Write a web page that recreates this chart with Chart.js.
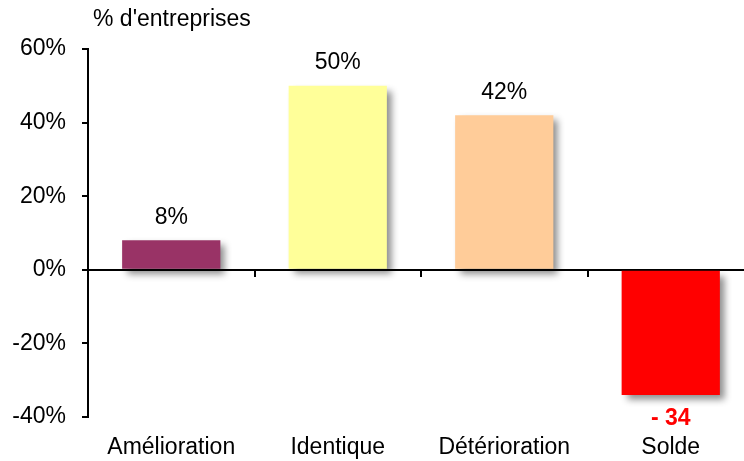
<!DOCTYPE html>
<html>
<head>
<meta charset="utf-8">
<script src="https://cdn.jsdelivr.net/npm/chart.js@4"></script>
<style>
  html, body { margin: 0; padding: 0; background: #fff; overflow: hidden; }
  #wrap { width: 760px; height: 461px; }
</style>
</head>
<body>
<div id="wrap"><canvas id="myChart"></canvas></div>
<script>
const categories = ["Amélioration", "Identique", "Détérioration", "Solde"];
const values = [8, 50, 42, -34];
const barColors = ["#993366", "#FFFF99", "#FFCC99", "#FF0000"];
const yTicks = [-40, -20, 0, 20, 40, 60];
const axisTitle = "% d'entreprises";

const FONT = "'Liberation Sans', Arial, sans-serif";
const SIZE = 23;

// drop shadow behind the bars
const shadowPlugin = {
  id: "shadow",
  beforeDatasetsDraw(chart) {
    const ctx = chart.ctx;
    ctx.save();
    ctx.shadowColor = "rgba(0,0,0,0.45)";
    ctx.shadowBlur = 7;
    ctx.shadowOffsetX = 5;
    ctx.shadowOffsetY = 5;
  },
  afterDatasetsDraw(chart) {
    chart.ctx.restore();
  }
};

// value labels + axis title
const labelPlugin = {
  id: "labels",
  afterDraw(chart) {
    const ctx = chart.ctx;
    const meta = chart.getDatasetMeta(0);
    ctx.save();
    ctx.textAlign = "center";
    ctx.textBaseline = "middle";
    meta.data.forEach((bar, i) => {
      const v = values[i];
      if (v >= 0) {
        ctx.font = SIZE + "px " + FONT;
        ctx.fillStyle = "#000";
        ctx.fillText(v + "%", bar.x, bar.y - 23);
      } else {
        ctx.font = "bold " + SIZE + "px " + FONT;
        ctx.fillStyle = "#FF0000";
        ctx.fillText("- " + Math.abs(v), bar.x, bar.y + 24);
      }
    });
    ctx.textAlign = "left";
    ctx.font = SIZE + "px " + FONT;
    ctx.fillStyle = "#000";
    ctx.fillText(axisTitle, 93, 20);
    ctx.restore();
  }
};

const ctx = document.getElementById("myChart").getContext("2d");
const chart = new Chart(ctx, {
  type: "bar",
  data: {
    labels: categories,
    datasets: [{
      data: values,
      backgroundColor: barColors,
      borderWidth: 0,
      barPercentage: 0.59,
      categoryPercentage: 1.0,
      xAxisID: "x",
      yAxisID: "y"
    }]
  },
  options: {
    responsive: true,
    maintainAspectRatio: false,
    animation: false,
    layout: { padding: { top: 49, right: 6, left: 0, bottom: 0 } },
    plugins: { legend: { display: false }, tooltip: { enabled: false } },
    scales: {
      x: {
        type: "category",
        position: { y: 0 },
        offset: true,
        grid: { display: true, drawOnChartArea: false, drawTicks: true, tickLength: 6, color: "#000", lineWidth: 2, offset: true },
        border: { display: true, color: "#000", width: 2 },
        ticks: { display: false }
      },
      x2: {
        type: "category",
        labels: categories,
        position: "bottom",
        offset: true,
        grid: { display: false },
        border: { display: false },
        ticks: { color: "#000", font: { family: FONT, size: SIZE }, padding: 9, maxRotation: 0, autoSkip: false },
        afterFit(s) { s.height = 44; }
      },
      y: {
        min: -40,
        max: 60,
        afterBuildTicks(s) { s.ticks = yTicks.map(v => ({ value: v })); },
        grid: { display: true, drawOnChartArea: false, drawTicks: true, tickLength: 6, color: "#000", lineWidth: 2 },
        border: { display: true, color: "#000", width: 2 },
        ticks: { color: "#000", font: { family: FONT, size: SIZE }, padding: 16, callback: v => v + "%" },
        afterFit(s) { s.width = 88; }
      }
    }
  },
  plugins: [shadowPlugin, labelPlugin]
});
</script>
</body>
</html>
